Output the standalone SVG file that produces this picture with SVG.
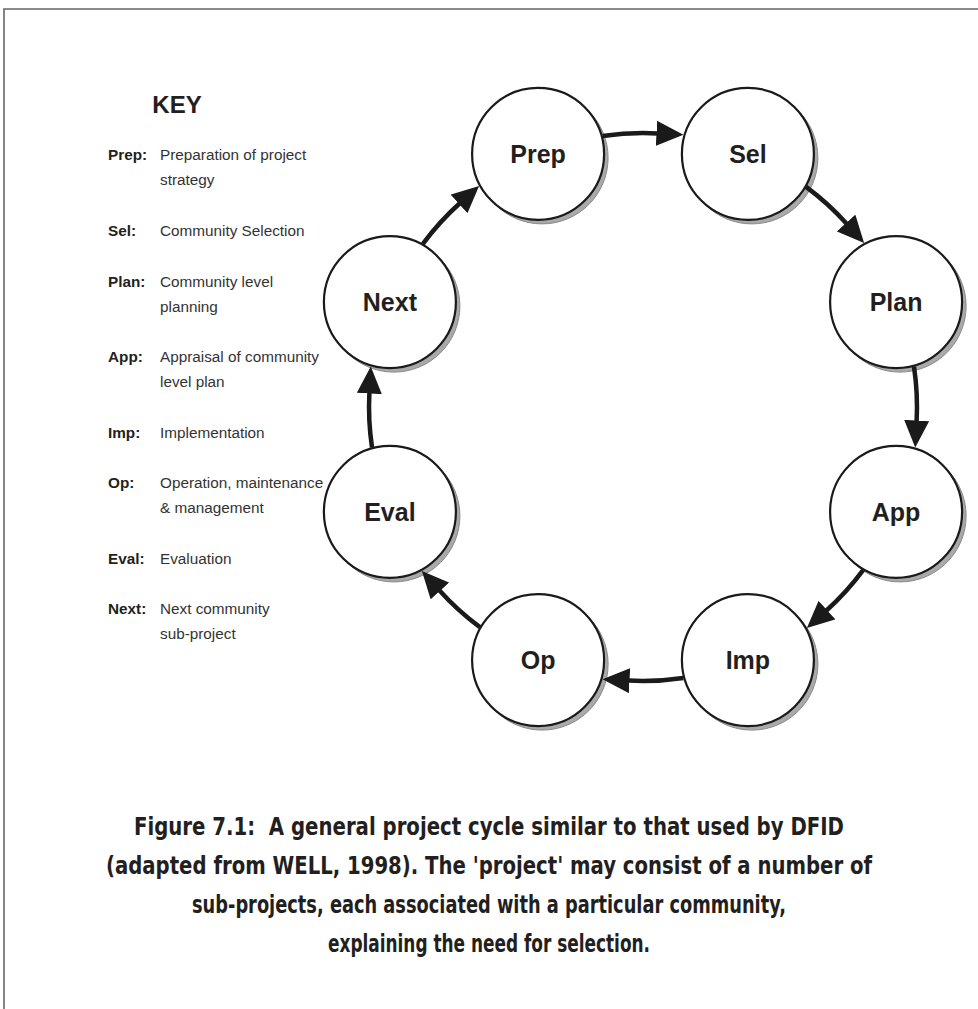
<svg xmlns="http://www.w3.org/2000/svg" width="978" height="1009" viewBox="0 0 978 1009">
<style>
.frame{fill:none;stroke:#666;stroke-width:1.6}
.shadow{fill:#a9a9a9;stroke:#8a8a8a;stroke-width:1}
.node{fill:#fff;stroke:#1a1a1a;stroke-width:2.2}
.nlabel{font-family:"Liberation Sans",Arial,sans-serif;font-weight:bold;font-size:25px;fill:#231f20;text-anchor:middle}
.conn{fill:none;stroke:#1a1a1a;stroke-width:4.5;marker-end:url(#arrow)}
.ktitle{font-family:"Liberation Sans",Arial,sans-serif;font-weight:bold;font-size:24px;fill:#231f20;text-anchor:middle}
.kl{font-family:"Liberation Sans",Arial,sans-serif;font-weight:bold;font-size:15.3px;fill:#231f20}
.kd{font-family:"Liberation Sans",Arial,sans-serif;font-size:15.3px;fill:#333}
.cap{font-family:"Liberation Sans Narrow","DejaVu Sans Condensed","Liberation Sans",sans-serif;font-stretch:condensed;font-weight:bold;font-size:24px;fill:#231f20;text-anchor:middle}
</style>
<defs>
<marker id="arrow" viewBox="0 0 27 25" refX="1" refY="12.5" markerWidth="27" markerHeight="25" markerUnits="userSpaceOnUse" orient="auto">
<path d="M0,0 L27,12.5 L0,25 Z" fill="#1a1a1a"/>
</marker>
</defs>
<rect width="978" height="1009" fill="#fff"/>
<path class="frame" d="M4,1009 V9 H978"/>

<g id="key">
<text class="ktitle" x="177" y="113">KEY</text>
<text class="kl" x="108" y="160">Prep:</text>
<text class="kd" x="160" y="160">Preparation of project</text>
<text class="kd" x="160" y="185">strategy</text>
<text class="kl" x="108" y="236">Sel:</text>
<text class="kd" x="160" y="236">Community Selection</text>
<text class="kl" x="108" y="287">Plan:</text>
<text class="kd" x="160" y="287">Community level</text>
<text class="kd" x="160" y="312">planning</text>
<text class="kl" x="108" y="362">App:</text>
<text class="kd" x="160" y="362">Appraisal of community</text>
<text class="kd" x="160" y="387">level plan</text>
<text class="kl" x="108" y="438">Imp:</text>
<text class="kd" x="160" y="438">Implementation</text>
<text class="kl" x="108" y="488">Op:</text>
<text class="kd" x="160" y="488">Operation, maintenance</text>
<text class="kd" x="160" y="513">&amp; management</text>
<text class="kl" x="108" y="564">Eval:</text>
<text class="kd" x="160" y="564">Evaluation</text>
<text class="kl" x="108" y="614">Next:</text>
<text class="kd" x="160" y="614">Next community</text>
<text class="kd" x="160" y="639">sub-project</text>
</g>

<g id="node-prep"><circle class="shadow" cx="542.1" cy="157.9" r="66"/><circle class="node" cx="538.1" cy="153.9" r="66"/><text class="nlabel" x="538.1" y="162.8">Prep</text></g>
<g id="node-sel"><circle class="shadow" cx="751.9" cy="157.9" r="66"/><circle class="node" cx="747.9" cy="153.9" r="66"/><text class="nlabel" x="747.9" y="162.8">Sel</text></g>
<g id="node-plan"><circle class="shadow" cx="900.1" cy="306.1" r="66"/><circle class="node" cx="896.1" cy="302.1" r="66"/><text class="nlabel" x="896.1" y="311">Plan</text></g>
<g id="node-app"><circle class="shadow" cx="900.1" cy="515.9" r="66"/><circle class="node" cx="896.1" cy="511.9" r="66"/><text class="nlabel" x="896.1" y="520.8">App</text></g>
<g id="node-imp"><circle class="shadow" cx="751.9" cy="664.1" r="66"/><circle class="node" cx="747.9" cy="660.1" r="66"/><text class="nlabel" x="747.9" y="669">Imp</text></g>
<g id="node-op"><circle class="shadow" cx="542.1" cy="664.1" r="66"/><circle class="node" cx="538.1" cy="660.1" r="66"/><text class="nlabel" x="538.1" y="669">Op</text></g>
<g id="node-eval"><circle class="shadow" cx="393.9" cy="515.9" r="66"/><circle class="node" cx="389.9" cy="511.9" r="66"/><text class="nlabel" x="389.9" y="520.8">Eval</text></g>
<g id="node-next"><circle class="shadow" cx="393.9" cy="306.1" r="66"/><circle class="node" cx="389.9" cy="302.1" r="66"/><text class="nlabel" x="389.9" y="311">Next</text></g>

<g id="connectors">
<path class="conn" d="M602.7,136.0 A274,274 0 0 1 657.5,133.4"/>
<path class="conn" d="M602.7,136.0 A274,274 0 0 1 657.5,133.4" transform="rotate(45 643 407)"/>
<path class="conn" d="M602.7,136.0 A274,274 0 0 1 657.5,133.4" transform="rotate(90 643 407)"/>
<path class="conn" d="M602.7,136.0 A274,274 0 0 1 657.5,133.4" transform="rotate(135 643 407)"/>
<path class="conn" d="M602.7,136.0 A274,274 0 0 1 657.5,133.4" transform="rotate(180 643 407)"/>
<path class="conn" d="M602.7,136.0 A274,274 0 0 1 657.5,133.4" transform="rotate(225 643 407)"/>
<path class="conn" d="M602.7,136.0 A274,274 0 0 1 657.5,133.4" transform="rotate(270 643 407)"/>
<path class="conn" d="M602.7,136.0 A274,274 0 0 1 657.5,133.4" transform="rotate(315 643 407)"/>
</g>

<g id="caption">
<text class="cap" x="489" y="835" textLength="710" lengthAdjust="spacingAndGlyphs" xml:space="preserve">Figure 7.1:  A general project cycle similar to that used by DFID</text>
<text class="cap" x="489" y="874" textLength="766" lengthAdjust="spacingAndGlyphs">(adapted from WELL, 1998). The 'project' may consist of a number of</text>
<text class="cap" x="489" y="913" textLength="594" lengthAdjust="spacingAndGlyphs">sub-projects, each associated with a particular community,</text>
<text class="cap" x="489" y="952" textLength="322" lengthAdjust="spacingAndGlyphs">explaining the need for selection.</text>
</g>
</svg>
